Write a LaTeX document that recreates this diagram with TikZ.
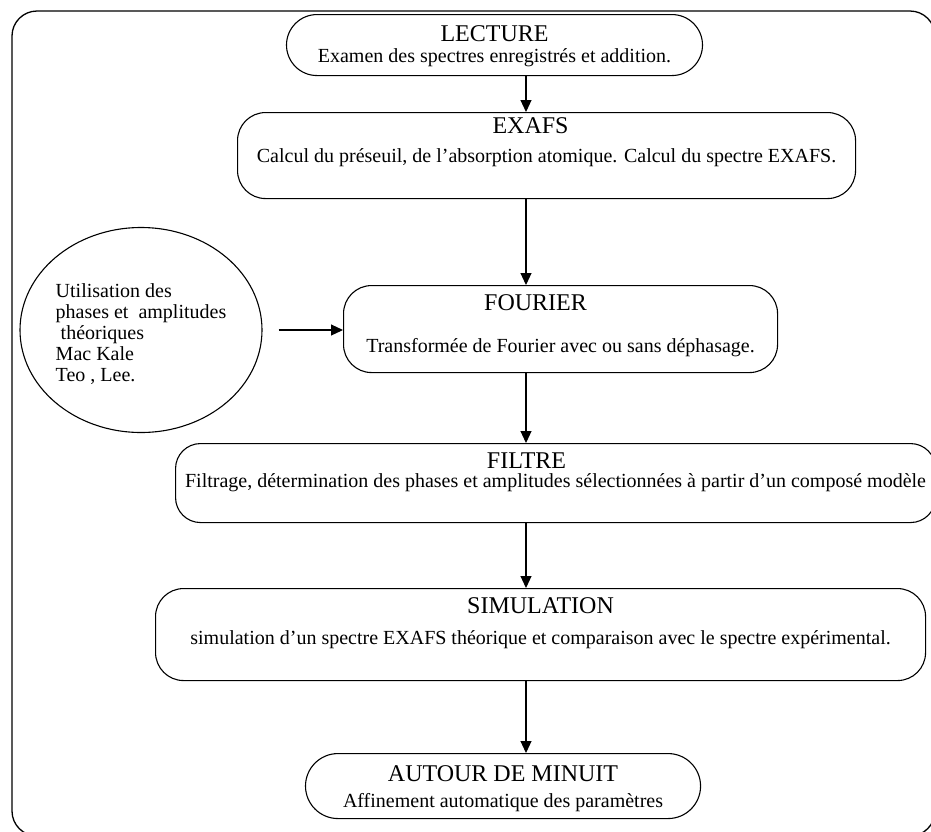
\documentclass[tikz,border=0pt]{standalone}
\usepackage{fontspec}
\setmainfont{Liberation Serif}
\usepackage{tikz}
\usetikzlibrary{shapes.geometric, shapes.misc, positioning, arrows.meta, calc}
\newcommand{\titre}[2][0pt]{{\fontsize{24}{26}\selectfont #2}\hspace*{#1}}
\tikzset{
  startstop/.style={rounded rectangle, draw=black, line width=1.1pt, inner xsep=5pt, inner ysep=0pt, align=center, anchor=north west},
  process/.style={rectangle, rounded corners=28pt, draw=black, line width=1.1pt, inner xsep=5pt, inner ysep=0pt, align=center, anchor=north west},
  source/.style={ellipse, draw=black, line width=1.1pt, align=left, minimum width=242pt, minimum height=205pt, inner sep=0pt},
  arrow/.style={line width=1.1pt, -{Triangle[length=12pt, width=11pt]}}
}
\begin{document}
\begin{tikzpicture}[x=1pt, y=-1pt, every node/.style={font=\fontsize{20}{21}\selectfont}]
        \useasboundingbox (0,0) rectangle (931,831);
        \clip (0,0) rectangle (931,831);
        % cadre
        \draw [line width=1.3pt, rounded corners=25pt] (12,11) rectangle (935,836);

        \node (lecture) [startstop, minimum width=426pt, text height=48pt, text depth=13pt] at (317,14) {\titre{LECTURE}\\ Examen des spectres enregistrés et addition.};
        \node (exafs) [process, minimum width=618pt, text height=50pt, text depth=36pt] at (237,112) {\titre[32pt]{EXAFS}\\[8pt] Calcul du préseuil, de l'absorption atomique. Calcul du spectre EXAFS.};
        \node (fourier) [process, minimum width=434pt, text height=67pt, text depth=20pt] at (343,285) {\titre[50pt]{FOURIER}\\[21pt] Transformée de Fourier avec ou sans déphasage.};
        \node (filtre) [process, rounded corners=25pt, minimum width=760pt, text height=44pt, text depth=35pt] at (175,443) {\titre[58pt]{FILTRE}\\[-2pt] Filtrage, détermination des phases et amplitudes sélectionnées à partir d'un composé modèle};
        \node (simulation) [process, minimum width=770pt, text height=56pt, text depth=36pt] at (155,588) {\titre{SIMULATION}\\[10pt] simulation d'un spectre EXAFS théorique et comparaison avec le spectre expérimental.};
        \node (minuit) [startstop, minimum width=384pt, text height=54pt, text depth=11pt] at (338,753) {\titre{AUTOUR DE MINUIT}\\[5pt] Affinement automatique des paramètres};

        % Bloc des phases et amplitudes (a gauche)
        \node (util) [source, text height=108pt, text depth=6pt] at (141,330) {Utilisation des\\ phases et \ amplitudes\\ \ théoriques\\ Mac Kale\\ Teo , Lee.};

        \coordinate (axe) at (526,0);
        \draw [arrow] (lecture.south -| axe) -- (exafs.north -| axe);
        \draw [arrow] (exafs.south -| axe) -- (fourier.north -| axe);
        \draw [arrow] (fourier.south -| axe) -- (filtre.north -| axe);
        \draw [arrow] (filtre.south -| axe) -- (simulation.north -| axe);
        \draw [arrow] (simulation.south -| axe) -- (minuit.north -| axe);

        % Fleche vers FOURIER
        \draw [arrow, shorten <=16pt] (util.east) -- (util.east -| fourier.west);
    \end{tikzpicture}
\end{document}
